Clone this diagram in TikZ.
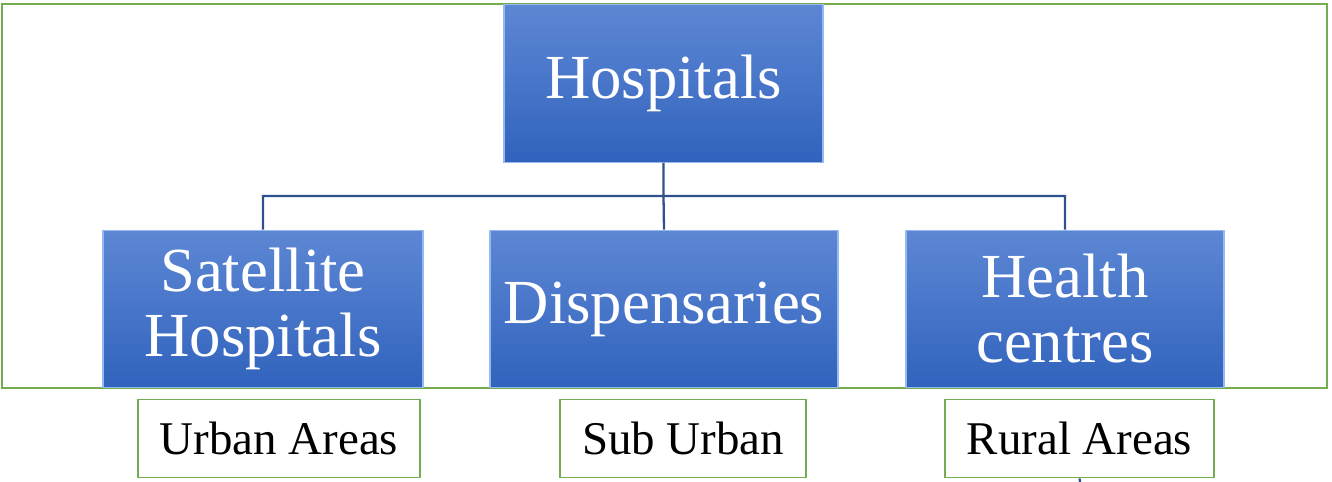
\documentclass[tikz,border=0pt]{standalone}
\usepackage{fontspec}
\setmainfont{Liberation Serif}
\usetikzlibrary{positioning}
\definecolor{boxtop}{RGB}{93,135,212}
\definecolor{boxbot}{RGB}{49,99,189}
\definecolor{boxrim}{RGB}{150,185,240}
\definecolor{linkblue}{RGB}{47,82,143}
\definecolor{framegreen}{RGB}{118,172,80}

\begin{document}
\begin{tikzpicture}[x=0.02cm,y=-0.02cm,
	unit/.style={rectangle,top color=boxtop,bottom color=boxbot,draw=boxrim,line width=0.8pt,
		text=white,align=center,inner sep=0pt,minimum height=3.15cm,
		font=\fontsize{35.7}{37}\selectfont},
	area/.style={rectangle,draw=framegreen,fill=white,line width=1.1pt,inner sep=0pt,
		minimum height=1.56cm,font=\fontsize{26.7}{30}\selectfont},
	link/.style={draw=linkblue,line width=1.3pt}]
	\useasboundingbox (0,0) rectangle (1332,482);
	\draw[framegreen,line width=1.1pt] (2,4) rectangle (1327,388);

	\node[unit,minimum width=6.38cm] (hosp) at (663.5,83.5) {Hospitals};
	\node[unit,minimum width=6.4cm] (sat) at (263,309) {Satellite\\Hospitals};
	\node[unit,minimum width=6.96cm] (disp) at (664,309) {Dispensaries};
	\node[unit,minimum width=6.36cm] (health) at (1065,309) {Health\\centres};

	\node[area,minimum width=5.64cm] (urban) at (279,438.5) {Urban Areas};
	\node[area,minimum width=4.92cm] (suburban) at (683,438.5) {Sub Urban};
	\node[area,minimum width=5.38cm] (rural) at (1079.5,438.5) {Rural Areas};

	\coordinate (bus) at (0,196);
	\coordinate (tail) at (1080,482);

	\path[link]
	(hosp.south) -- (hosp.south |- bus) -| (sat.north)
	(hosp.south |- bus) -- (disp.north)
	(hosp.south |- bus) -| (health.north)
	(rural.south) -- (tail)
	;
\end{tikzpicture}
\end{document}
